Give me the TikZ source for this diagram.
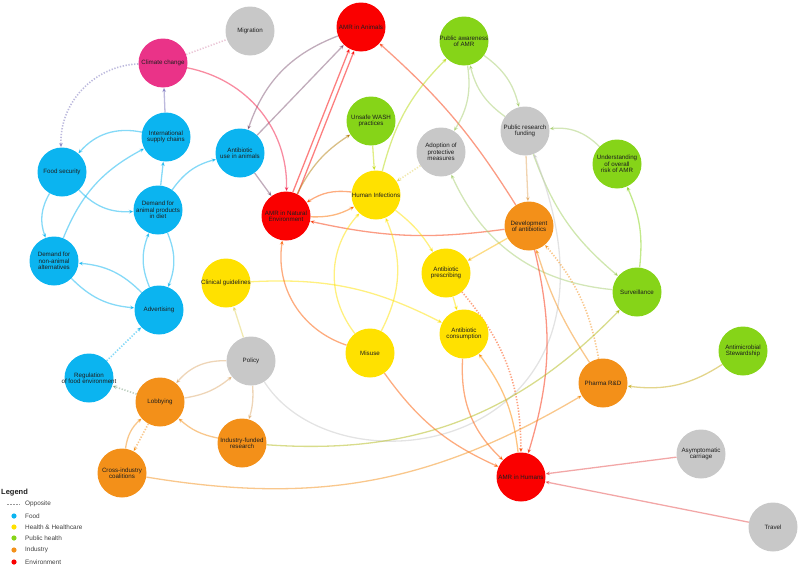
\documentclass[tikz,border=0pt]{standalone}
\usepackage{fontspec}
\setmainfont{Liberation Sans}
\usetikzlibrary{arrows.meta,backgrounds}
\definecolor{food}{HTML}{0BB4F0}
\definecolor{health}{HTML}{FFE100}
\definecolor{pub}{HTML}{86D418}
\definecolor{ind}{HTML}{F39019}
\definecolor{env}{HTML}{FA0000}
\definecolor{grayc}{HTML}{C8C8C8}
\definecolor{pink}{HTML}{EA3388}
\definecolor{txt}{HTML}{1E1E1E}
\newcommand\cnode[5]{\node[circ,fill=#4] (#1) at (#2,-#3) {};\node[lbl] (#1t) at (#1) {#5};}
\begin{document}
\begin{tikzpicture}[x=1pt,y=1pt,
  circ/.style={circle,minimum size=49pt,inner sep=0pt,draw=none},
  lbl/.style={align=center,text=txt,inner sep=0pt,font=\fontsize{6.2}{6.4}\selectfont},
  edge/.style={line width=1.3pt,draw opacity=0.5,-{Stealth[length=4.5pt,width=4pt]}},
  opp/.style={edge,dash pattern=on 1.3pt off 1.6pt,line width=1.6pt},
  lgtxt/.style={anchor=west,text=txt!85,inner sep=0pt,font=\fontsize{6.4}{7}\selectfont},
  dot/.style={circle,minimum size=5.2pt,inner sep=0pt}]
\useasboundingbox (0,0) rectangle (800,-570);
% nodes
\cnode{mig}{250}{31}{grayc}{Migration}
\cnode{cc}{163}{63}{pink}{Climate change}
\cnode{isc}{166}{137}{food}{International\\supply chains}
\cnode{aua}{240}{153}{food}{Antibiotic\\use in animals}
\cnode{fs}{62}{172}{food}{Food security}
\cnode{dap}{158}{210}{food}{Demand for\\animal products\\in diet}
\cnode{dna}{54}{261}{food}{Demand for\\non-animal\\alternatives}
\cnode{adv}{159}{310}{food}{Advertising}
\cnode{reg}{89}{378}{food}{Regulation\\of food environment}
\cnode{lob}{160}{402}{ind}{Lobbying}
\cnode{cic}{122}{473}{ind}{Cross-industry\\coalitions}
\cnode{ifr}{242}{443}{ind}{Industry-funded\\research}
\cnode{pol}{251}{361}{grayc}{Policy}
\cnode{cg}{226}{283}{health}{Clinical guidelines}
\cnode{amra}{361}{27}{env}{AMR in Animals}
\cnode{pa}{464}{41}{pub}{Public awareness\\of AMR}
\cnode{wash}{371}{121}{pub}{Unsafe WASH\\practices}
\cnode{apm}{441}{152}{grayc}{Adoption of\\protective\\measures}
\cnode{prf}{525}{131}{grayc}{Public research\\funding}
\cnode{uor}{617}{164}{pub}{Understanding\\of overall\\risk of AMR}
\cnode{ne}{286}{216}{env}{AMR in Natural\\Environment}
\cnode{hi}{376}{195}{health}{Human Infections}
\cnode{dev}{529}{226}{ind}{Development\\of antibiotics}
\cnode{ap}{446}{273}{health}{Antibiotic\\prescribing}
\cnode{ac}{464}{334}{health}{Antibiotic\\consumption}
\cnode{mis}{370}{353}{health}{Misuse}
\cnode{surv}{637}{292}{pub}{Surveillance}
\cnode{ams}{743}{351}{pub}{Antimicrobial\\Stewardship}
\cnode{prd}{603}{383}{ind}{Pharma R\&D}
\cnode{asy}{701}{454}{grayc}{Asymptomatic\\carriage}
\cnode{amrh}{521}{477}{env}{AMR in Humans}
\cnode{trav}{773}{527}{grayc}{Travel}
% edges
\begin{scope}[on background layer]
% food cluster
\draw[edge,food!50!pink] (isc) -- (cc);
\draw[opp,pink!50!food] (cc) to[bend right=45] (fs);
\draw[opp,-,pink!40!grayc] (cc) -- (mig);
\draw[edge,food] (isc) to[bend right=30] (fs);
\draw[edge,food] (fs) to[bend right=25] (dna);
\draw[edge,food] (fs) to[bend right=25] (dap);
\draw[edge,food] (dna) to[bend left=20] (isc);
\draw[edge,food] (dap) -- (isc);
\draw[edge,food] (dap) to[bend left=20] (aua);
\draw[edge,food] (adv) to[bend left=22] (dap);
\draw[edge,food] (dap) to[bend left=22] (adv);
\draw[edge,food] (adv) to[bend right=20] (dna);
\draw[edge,food] (dna) to[bend right=20] (adv);
\draw[opp,food] (reg) -- (adv);
\draw[opp,ind!50!food] (lob) -- (reg);
% animals / environment
\draw[edge,env!50!food] (amra) to[bend right=25] (aua);
\draw[edge,food!50!env] (aua) -- (amra);
\draw[edge,food!50!env] (aua) -- (ne);
\draw[edge,pink!50!env] (cc) to[bend left=40] (ne);
\draw[edge,env] (ne.62) -- (amra.254);
\draw[edge,env] (ne.74) -- (amra.242);
\draw[edge,ind!40!env] (dev) to[bend right=8] (amra);
\draw[edge,ind!40!env] (dev) to[bend left=10] (ne);
\draw[edge,health!40!env] (hi) to[bend right=20] (ne);
\draw[edge,env!50!health] (ne) to[bend right=15] (hi);
\draw[edge,env!40!pub] (ne) to[bend left=15] (wash);
\draw[edge,pub!50!health] (wash) -- (hi);
\draw[edge,health!40!pub] (hi) to[bend left=15] (pa);
\draw[opp,grayc!50!health] (apm) -- (hi);
% public health
\draw[edge,pub!50!grayc] (pa) to[bend left=20] (apm);
\draw[edge,pub!50!grayc] (pa) to[bend left=20] (prf);
\draw[edge,grayc!50!pub] (prf) to[bend left=20] (pa);
\draw[edge,pub!50!grayc] (uor) to[bend right=25] (prf);
\draw[edge,pub] (surv) to[bend right=15] (uor);
\draw[edge,grayc!40!ind] (prf) -- (dev);
\draw[edge,grayc!40!pub] (prf) to[bend right=15] (surv);
\draw[edge,pub!50!grayc] (surv) to[bend left=30] (apm);
\draw[edge,grayc] (pol) .. controls (340,-500) and (650,-450) .. (prf);
% health
\draw[edge,health] (hi) to[bend left=10] (ap);
\draw[edge,ind!50!health] (dev) -- (ap);
\draw[edge,health] (ap) -- (ac);
\draw[edge,health] (cg) to[bend left=15] (ac);
\draw[edge,grayc!50!health] (pol) -- (cg);
\draw[edge,health] (mis) to[bend left=40] (hi);
\draw[edge,health] (mis) to[bend right=25] (hi);
\draw[edge,health!40!env] (mis) to[bend left=40] (ne);
\draw[edge,health!40!env] (mis) to[bend right=15] (amrh);
\draw[edge,health!40!env] (ac) to[bend right=25] (amrh);
\draw[edge,env!40!health] (amrh) to[bend right=15] (ac);
\draw[opp,health!30!env] (ap) to[bend left=20] (amrh);
% industry
\draw[edge,ind] (prd) to[bend left=8] (dev);
\draw[edge,ind!30!env] (dev) to[bend left=15] (amrh);
\draw[opp,ind] (prd) to[bend right=15] (dev);
\draw[edge,ind!40!pub] (ifr) to[bend right=25] (surv);
\draw[edge,ind] (cic) to[bend right=20] (prd);
\draw[edge,pub!40!ind] (ams) to[bend left=20] (prd);
\draw[edge,grayc!50!ind] (pol) to[bend right=25] (lob);
\draw[edge,ind!50!grayc] (lob) to[bend right=15] (pol);
\draw[edge,grayc!50!ind] (pol) to[bend left=10] (ifr);
\draw[edge,ind] (ifr) to[bend left=15] (lob);
\draw[edge,ind] (cic) to[bend left=20] (lob);
\draw[opp,ind] (lob) -- (cic);
\draw[edge,grayc!40!env] (asy) -- (amrh);
\draw[edge,grayc!40!env] (trav) -- (amrh);
\end{scope}
% legend
\node[anchor=west,inner sep=0pt,text=txt,font=\bfseries\fontsize{7.5}{8}\selectfont] (legT) at (1,-493) {Legend};
\coordinate (o1) at (7,-504);
\coordinate (o2) at (20,-504);
\draw[gray!80,line width=0.7pt,dash pattern=on 1.6pt off 1.4pt] (o1) -- (o2);
\node[lgtxt] (l1) at (25,-504) {Opposite};
\node[dot,fill=food] (d2) at (14,-516) {};
\node[lgtxt] (l2) at (25,-516) {Food};
\node[dot,fill=health] (d3) at (14,-527) {};
\node[lgtxt] (l3) at (25,-527) {Health \& Healthcare};
\node[dot,fill=pub] (d4) at (14,-538) {};
\node[lgtxt] (l4) at (25,-538) {Public health};
\node[dot,fill=ind] (d5) at (14,-550) {};
\node[lgtxt] (l5) at (25,-550) {Industry};
\node[dot,fill=env] (d6) at (14,-562) {};
\node[lgtxt] (l6) at (25,-562) {Environment};
\end{tikzpicture}
\end{document}
